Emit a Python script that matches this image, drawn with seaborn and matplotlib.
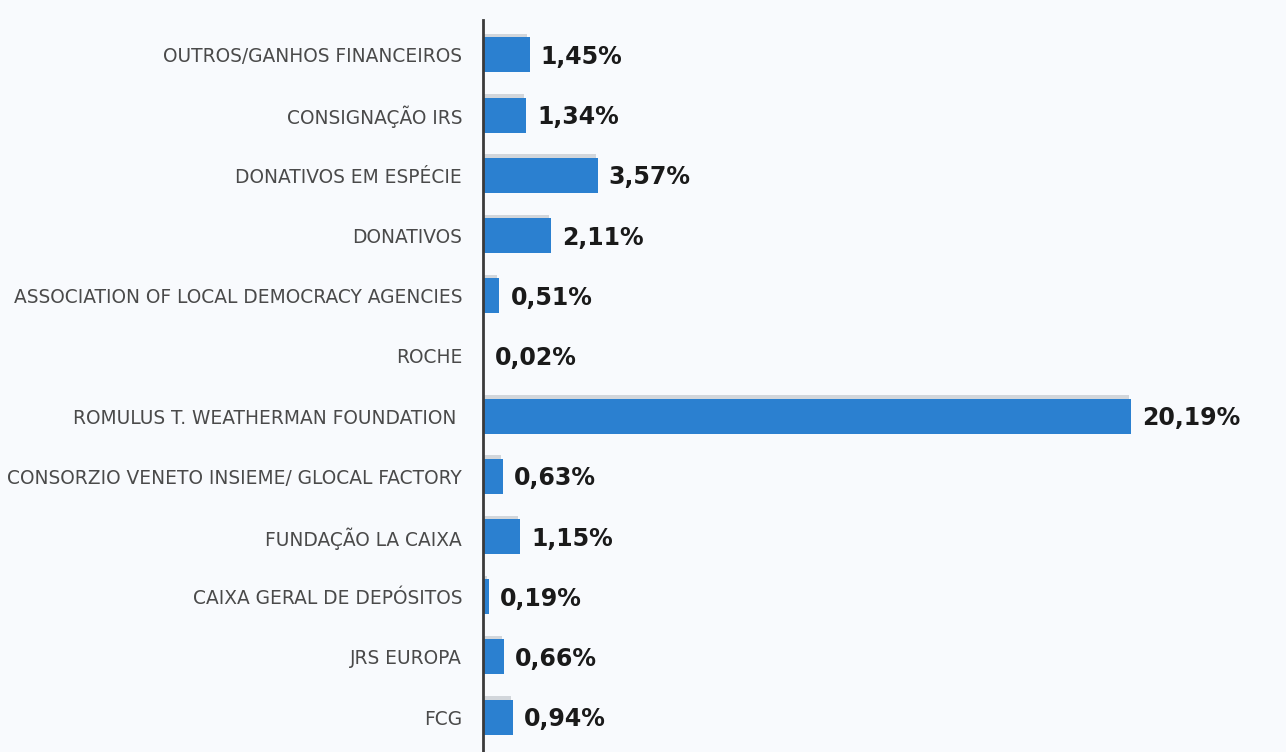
import matplotlib
matplotlib.use("Agg")
import matplotlib.pyplot as plt
import matplotlib.patheffects as pe
import seaborn as sns
import pandas as pd

categories = [
    "OUTROS/GANHOS FINANCEIROS",
    "CONSIGNAÇÃO IRS",
    "DONATIVOS EM ESPÉCIE",
    "DONATIVOS",
    "ASSOCIATION OF LOCAL DEMOCRACY AGENCIES",
    "ROCHE",
    "ROMULUS T. WEATHERMAN FOUNDATION ",
    "CONSORZIO VENETO INSIEME/ GLOCAL FACTORY",
    "FUNDAÇÃO LA CAIXA",
    "CAIXA GERAL DE DEPÓSITOS",
    "JRS EUROPA",
    "FCG",
]
values = [1.45, 1.34, 3.57, 2.11, 0.51, 0.02, 20.19, 0.63, 1.15, 0.19, 0.66, 0.94]
value_labels = ["1,45%", "1,34%", "3,57%", "2,11%", "0,51%", "0,02%", "20,19%",
                "0,63%", "1,15%", "0,19%", "0,66%", "0,94%"]

df = pd.DataFrame({"cat": categories, "val": values})

sns.set_theme(style="white")
plt.rcParams["font.family"] = ["DejaVu Sans"]

fig = plt.figure(figsize=(12.86, 7.52), dpi=100)
bg = "#f8fafd"
fig.patch.set_facecolor(bg)
ax = fig.add_axes([483 / 1286, 0.0, 1 - 483 / 1286 - 0.025, 1 - 20 / 752])
ax.set_facecolor("none")

sns.barplot(data=df, x="val", y="cat", orient="h", color="#2b80d0",
            saturation=1, width=0.58, ax=ax)

for p in ax.patches:
    p.set_path_effects([pe.SimplePatchShadow(offset=(-1.5, 2.5), shadow_rgbFace="#9aa0aa", alpha=0.4),
                        pe.Normal()])
    p.set_linewidth(0)

ax.set_xlim(0, 24)
ax.set_ylim(11.58, -0.58)

for i, (v, lab) in enumerate(zip(values, value_labels)):
    ax.annotate(lab, xy=(v, i), xytext=(8, -1.5), textcoords="offset points",
                ha="left", va="center", fontsize=17, fontweight="bold", color="#1a1a1a")

ax.set_xlabel("")
ax.set_ylabel("")
ax.set_xticks([])
ax.tick_params(axis="y", length=0, pad=15, labelsize=13.4, labelcolor="#4a4a4a")
for s in ["top", "right", "bottom"]:
    ax.spines[s].set_visible(False)
ax.spines["left"].set_color("#3a3a3a")
ax.spines["left"].set_linewidth(2)

fig.savefig("out.png", dpi=100, facecolor=bg)
